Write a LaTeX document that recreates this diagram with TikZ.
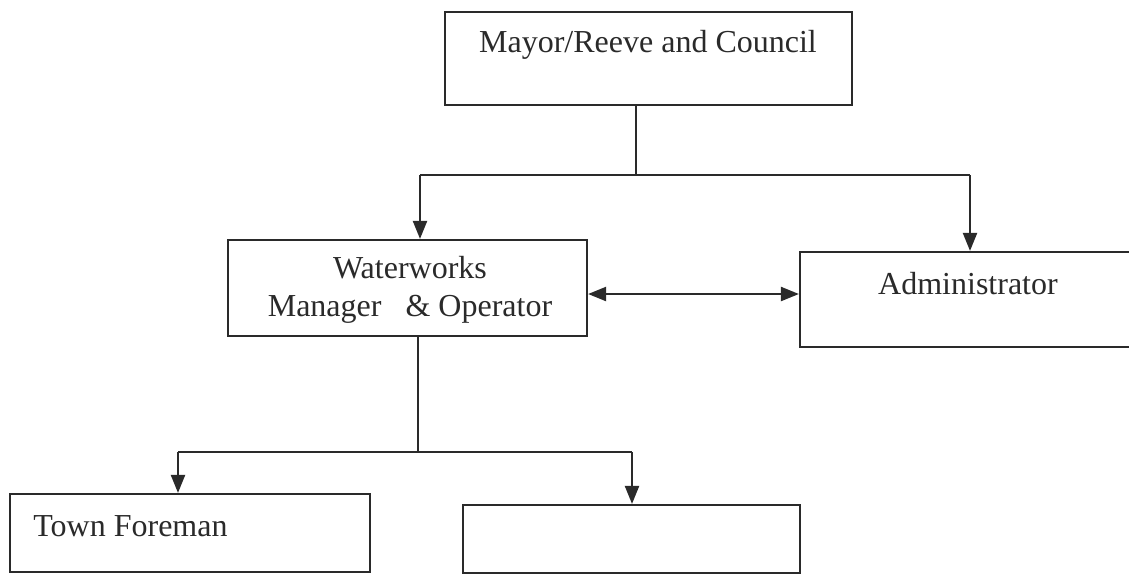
\documentclass[tikz,border=0pt]{standalone}
\usepackage{fontspec}
\setmainfont{Liberation Serif}
\usetikzlibrary{arrows.meta,fit}
\definecolor{ink}{HTML}{2A2A2A}
\begin{document}
\begin{tikzpicture}[x=0.5pt,y=-0.5pt,
  box/.style={draw=ink,line width=1.1pt,inner sep=0pt,rectangle},
  txt/.style={font=\fontsize{16}{19}\selectfont,text=ink,inner sep=0pt},
  conn/.style={draw=ink,line width=1.1pt},
  arr/.style={conn,-{Triangle[width=7pt,length=9pt]}},
  dbl/.style={conn,{Triangle[width=7pt,length=9pt]}-{Triangle[width=7pt,length=9pt]}}]
\useasboundingbox (0,0) rectangle (1129,575);
\clip (0,0) rectangle (1129,575);
\fill[white] (0,0) rectangle (1129,575);
% boxes
\node[box,fit={(445,12) (852,105)}] (mayor) {};
\node[box,fit={(228,240) (587,336)}] (ww) {};
\node[box,fit={(800,252) (1145,347)}] (admin) {};
\node[box,fit={(10,494) (370,572)}] (town) {};
\node[box,fit={(463,505) (800,573)}] (empty) {};
% texts
\node[txt] (mayortxt) at (648,45) {Mayor/Reeve and Council};
\node[txt,align=center] (wwtxt) at (410,290) {Waterworks\\Manager~~~\& Operator};
\node[txt] (admintxt) at (968,284) {Administrator};
\node[txt,anchor=west] (towntxt) at (33,526) {Town Foreman};
% connectors
\coordinate (j1) at (636,175);
\coordinate (l1) at (420,175);
\coordinate (r1) at (970,175);
\draw[conn] (j1 |- mayor.south) -- (j1);
\draw[conn] (l1) -- (r1);
\draw[arr] (l1) -- (l1 |- ww.north);
\draw[arr] (r1) -- (r1 |- admin.north);
\coordinate (m1) at (0,294);
\draw[dbl] (ww.east |- m1) -- (admin.west |- m1);
\coordinate (j2) at (418,452);
\coordinate (l2) at (178,452);
\coordinate (r2) at (632,452);
\draw[conn] (j2 |- ww.south) -- (j2);
\draw[conn] (l2) -- (r2);
\draw[arr] (l2) -- (l2 |- town.north);
\draw[arr] (r2) -- (r2 |- empty.north);
\end{tikzpicture}
\end{document}
